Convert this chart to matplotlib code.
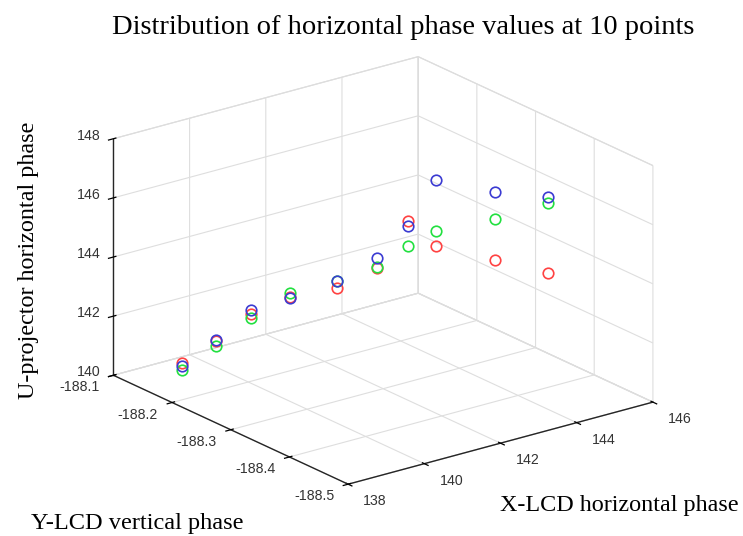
import numpy as np
import matplotlib
matplotlib.use("Agg")
import matplotlib.pyplot as plt
from mpl_toolkits.mplot3d import proj3d

# ---------------- data ----------------
x_lcd = [138.80, 139.50, 140.20, 140.90, 141.60, 142.30, 143.00, 143.70, 144.40, 145.10]
y_lcd = [-188.165, -188.178, -188.192, -188.213, -188.247, -188.270, -188.277, -188.279, -188.334, -188.380]
z_red = [140.72, 141.36, 142.17, 142.67, 143.07, 143.71, 145.11, 144.04, 143.84, 143.59]
z_green = [140.49, 141.19, 142.02, 142.83, 143.29, 143.75, 144.26, 144.54, 145.22, 145.93]
z_blue = [140.64, 141.40, 142.28, 142.65, 143.31, 144.05, 144.93, 146.29, 146.14, 146.13]

x_ticks = [138, 140, 142, 144, 146]
x_tick_labels = ["138", "140", "142", "144", "146"]
y_ticks = [-188.5, -188.4, -188.3, -188.2, -188.1]
y_tick_labels = ["-188.5", "-188.4", "-188.3", "-188.2", "-188.1"]
z_ticks = [140, 142, 144, 146, 148]
z_tick_labels = ["140", "142", "144", "146", "148"]

title = "Distribution of horizontal phase values at 10 points"
x_label = "X-LCD horizontal phase"
y_label = "Y-LCD vertical phase"
z_label = "U-projector horizontal phase"

# ---------------- style ----------------
W, H = 743, 536
plt.rcParams["grid.color"] = "#dedede"
plt.rcParams["grid.linewidth"] = 0.8
plt.rcParams["font.family"] = ["Liberation Sans", "DejaVu Sans"]

fig = plt.figure(figsize=(W / 100, H / 100), dpi=100)
side = 420
ax = fig.add_axes([60 / W, 60 / H, side / W, side / H], projection="3d")
ax.set_proj_type("ortho")
ax.view_init(elev=20.7, azim=-127.3)
ax.set_box_aspect((1, 1.011, 0.66))

for col, zs in (("#ff4242", z_red), ("#22e040", z_green), ("#3b3bd2", z_blue)):
    ax.plot(x_lcd, y_lcd, zs, linestyle="none", marker="o", markersize=7.6,
            markerfacecolor="none", markeredgecolor=col, markeredgewidth=1.2)

ax.set_xlim(138, 146)
ax.set_ylim(-188.5, -188.1)
ax.set_zlim(140, 148)
ax.set_xticks(x_ticks)
ax.set_yticks(y_ticks)
ax.set_zticks(z_ticks)
ax.set_xticklabels([""] * len(x_ticks))
ax.set_yticklabels([""] * len(y_ticks))
ax.set_zticklabels([""] * len(z_ticks))

for axis in (ax.xaxis, ax.yaxis, ax.zaxis):
    axis.set_pane_color((1, 1, 1, 1))
    axis.pane.set_edgecolor("#d8d8d8")
    axis.pane.set_linewidth(0.8)
    axis.line.set_color("#262626")
    axis.line.set_linewidth(1.0)
    axis._axinfo["tick"]["color"] = "#262626"
    axis._axinfo["tick"]["linewidth"] = {True: 0.9, False: 0.9}


def to_display(pts):
    pts = np.asarray(pts, dtype=float)
    M = ax.get_proj()
    px, py, _z = proj3d.proj_transform(pts[:, 0], pts[:, 1], pts[:, 2], M)
    return ax.transData.transform(np.column_stack([px, py]))


# ---------------- fit axes box to target pixel geometry ----------------
corners = np.array([[138, -188.5, 140], [146, -188.5, 140], [138, -188.1, 140],
                    [138, -188.1, 148], [146, -188.1, 148]], dtype=float)
targets = np.array([[348, 484], [653, 402], [113, 375], [113, 138], [419, 58]], dtype=float)
targets[:, 1] = H - targets[:, 1]

for _ in range(2):
    fig.canvas.draw()
    d = to_display(corners)
    n = len(d)
    A = np.zeros((2 * n, 3))
    b = np.zeros(2 * n)
    A[:n, 0] = d[:, 0]; A[:n, 1] = 1; b[:n] = targets[:, 0]
    A[n:, 0] = d[:, 1]; A[n:, 2] = 1; b[n:] = targets[:, 1]
    s, tx, ty = np.linalg.lstsq(A, b, rcond=None)[0]
    bb = ax.get_position()
    l, bt, w, h = bb.x0 * W, bb.y0 * H, bb.width * W, bb.height * H
    ax.set_position([(s * l + tx) / W, (s * bt + ty) / H, s * w / W, s * h / H])
fig.canvas.draw()

# ---------------- tick labels (placed at projected tick positions) ----------------
tick_kw = dict(fontsize=10.2, color="#333333")
xp = to_display([[v, -188.5, 140] for v in x_ticks])
for (dx, dy), lab in zip(xp, x_tick_labels):
    fig.text((dx + 27) / W, (dy - 17) / H, lab, ha="center", va="center", **tick_kw)
yp = to_display([[138, v, 140] for v in y_ticks])
for (dx, dy), lab in zip(yp, y_tick_labels):
    fig.text((dx - 14) / W, (dy - 12) / H, lab, ha="right", va="center", **tick_kw)
zp = to_display([[138, -188.1, v] for v in z_ticks])
for (dx, dy), lab in zip(zp, z_tick_labels):
    fig.text((dx - 13) / W, (dy + 3) / H, lab, ha="right", va="center", **tick_kw)

# ---------------- texts ----------------
serif = ["Liberation Serif", "DejaVu Serif"]
fig.text(403 / W, 1 - 34 / H, title, family=serif, fontsize=20.5,
         ha="center", va="baseline")
fig.text(29 / W, 1 - 260 / H, z_label, family=serif, fontsize=17.4,
         rotation=90, ha="center", va="center")
fig.text(31 / W, 1 - 529 / H, y_label, family=serif, fontsize=17.6,
         ha="left", va="baseline")
fig.text(500 / W, 1 - 511 / H, x_label, family=serif, fontsize=17.4,
         ha="left", va="baseline")

fig.savefig("out.png", dpi=100)
